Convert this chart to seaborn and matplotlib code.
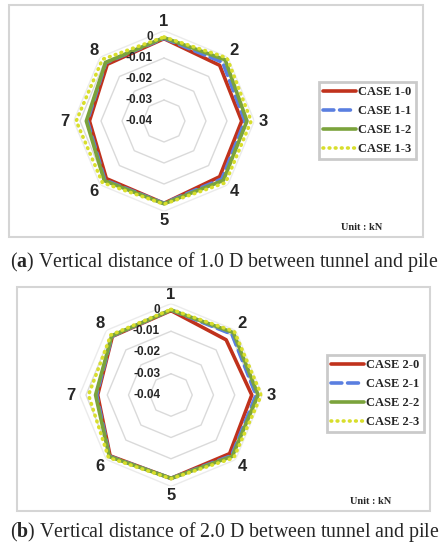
import matplotlib

matplotlib.use("Agg")
import matplotlib.pyplot as plt
import numpy as np
import pandas as pd
import seaborn as sns
from matplotlib.patches import Rectangle

sns.set_style("white")
plt.rcParams["font.family"] = ["Liberation Sans", "DejaVu Sans"]
plt.rcParams["mathtext.fontset"] = "custom"
plt.rcParams["mathtext.bf"] = "Liberation Serif:bold"
plt.rcParams["mathtext.rm"] = "Liberation Serif"

# ---- data (unit kN) ----
points = ["1", "2", "3", "4", "5", "6", "7", "8"]
r_ticks = [0, -0.01, -0.02, -0.03, -0.04]
r_min = -0.04
r_max = 0.003

cases_a = ["CASE 1-0", "CASE 1-1", "CASE 1-2", "CASE 1-3"]
case_1_0 = [-0.0008, -0.0025, -0.0030, -0.0025, -0.0008, -0.0012, -0.0045, -0.0018]
case_1_1 = [-0.0006, -0.0005, -0.0015, -0.0010, -0.0008, -0.0002, -0.0035, -0.0008]
case_1_2 = [-0.0003, 0.0012, -0.0005, 0.0000, -0.0006, 0.0002, -0.0030, -0.0006]
case_1_3 = [0.0000, 0.0025, 0.0015, 0.0015, -0.0004, 0.0015, 0.0018, 0.0015]

cases_b = ["CASE 2-0", "CASE 2-1", "CASE 2-2", "CASE 2-3"]
case_2_0 = [-0.0003, -0.0033, -0.0020, -0.0010, -0.0008, 0.0005, -0.0055, -0.0010]
case_2_1 = [0.0000, 0.0005, 0.0000, 0.0003, -0.0008, 0.0008, -0.0050, -0.0008]
case_2_2 = [0.0000, 0.0015, 0.0010, 0.0008, -0.0008, 0.0010, -0.0045, -0.0006]
case_2_3 = [0.0003, 0.0022, 0.0025, 0.0018, -0.0006, 0.0016, -0.0012, 0.0000]

colors = ["#C0321C", "#5A7FE0", "#7BA33C", "#D8DE2C"]
dash_styles = ["", (3, 1.6), "", (0.2, 1.5)]

captions = [
    ("a", " Vertical distance of 1.0 D between tunnel and pile"),
    ("b", " Vertical distance of 2.0 D between tunnel and pile"),
]


def radar_frame(series, names):
    rows = []
    angles = np.linspace(0, 2 * np.pi, len(points), endpoint=False)
    for name, vals in zip(names, series):
        closed_ang = list(angles) + [2 * np.pi]
        closed_val = list(vals) + [vals[0]]
        for a, v in zip(closed_ang, closed_val):
            rows.append({"case": name, "theta": a, "value": v})
    return pd.DataFrame(rows), angles


def draw_radar(fig, rect, series, names, legend_xy, unit_xy):
    ax = fig.add_axes(rect, projection="polar")
    ax.set_theta_zero_location("N")
    ax.set_theta_direction(-1)
    ax.set_ylim(r_min, r_max)
    ax.grid(False)
    ax.spines["polar"].set_visible(False)
    ax.patch.set_alpha(0)

    df, angles = radar_frame(series, names)
    ring_ang = list(angles) + [angles[0]]

    # octagon grid
    for lev in r_ticks[:-1]:
        ax.plot(ring_ang, [lev] * len(ring_ang), color="#DADADA", lw=1.0, zorder=0)
    ax.plot(ring_ang, [r_max] * len(ring_ang), color="#EBEBEB", lw=1.0, zorder=0)

    sns.lineplot(
        data=df,
        x="theta",
        y="value",
        hue="case",
        style="case",
        palette=dict(zip(names, colors)),
        dashes=dict(zip(names, dash_styles)),
        sort=False,
        estimator=None,
        lw=2.6,
        dash_capstyle="round",
        ax=ax,
    )
    ax.set_xlabel("")
    ax.set_ylabel("")

    ax.set_xticks(angles)
    ax.set_xticklabels(points, fontsize=12, fontweight="bold")
    ax.tick_params(axis="x", pad=-0.5, length=0)
    ax.set_yticks([])

    for lev in r_ticks:
        ax.annotate(
            f"{lev:g}",
            xy=(0, lev),
            xytext=(-11, 0),
            textcoords="offset pixels",
            ha="right",
            va="center",
            fontsize=8.5,
            fontweight="bold",
        )

    sns.move_legend(
        ax,
        "upper left",
        bbox_to_anchor=legend_xy,
        bbox_transform=fig.transFigure,
        title=None,
        frameon=True,
        fancybox=False,
        prop={"family": "Liberation Serif", "weight": "bold", "size": 9},
        handlelength=2.6,
        handletextpad=0.2,
        labelspacing=0.55,
        borderpad=0.35,
        borderaxespad=0,
    )
    frame = ax.get_legend().get_frame()
    frame.set_edgecolor("#BDBDBD")
    frame.set_linewidth(2)

    fig.text(
        unit_xy[0],
        unit_xy[1],
        "Unit : kN",
        ha="center",
        va="center",
        family="Liberation Serif",
        fontweight="bold",
        fontsize=7.5,
    )
    return ax


W, H = 445, 550
fig = plt.figure(figsize=(W / 100, H / 100), dpi=100)


def px_rect(cx, cy, rad):
    return [(cx - rad) / W, (H - cy - rad) / H, 2 * rad / W, 2 * rad / H]


# panel frames
fig.add_artist(Rectangle((9 / W, 1 - 237 / H), 414 / W, 232 / H,
                         transform=fig.transFigure, fill=False,
                         edgecolor="#D5D5D5", lw=1.5))
fig.add_artist(Rectangle((17 / W, 1 - 511 / H), 413 / W, 224 / H,
                         transform=fig.transFigure, fill=False,
                         edgecolor="#D5D5D5", lw=1.5))

draw_radar(
    fig,
    px_rect(164, 121, 90.3),
    [case_1_0, case_1_1, case_1_2, case_1_3],
    cases_a,
    (319 / W, 1 - 82 / H),
    (362 / W, 1 - 227 / H),
)
draw_radar(
    fig,
    px_rect(171, 395, 91.4),
    [case_2_0, case_2_1, case_2_2, case_2_3],
    cases_b,
    (327 / W, 1 - 355 / H),
    (371 / W, 1 - 502 / H),
)

for (letter, rest), y in zip(captions, [262, 532]):
    fig.text(
        10 / W,
        1 - y / H,
        "(" + r"$\mathbf{" + letter + "}$" + ")" + rest,
        ha="left",
        va="center",
        family="Liberation Serif",
        fontsize=14.3,
    )

fig.savefig("out.png", dpi=100)
